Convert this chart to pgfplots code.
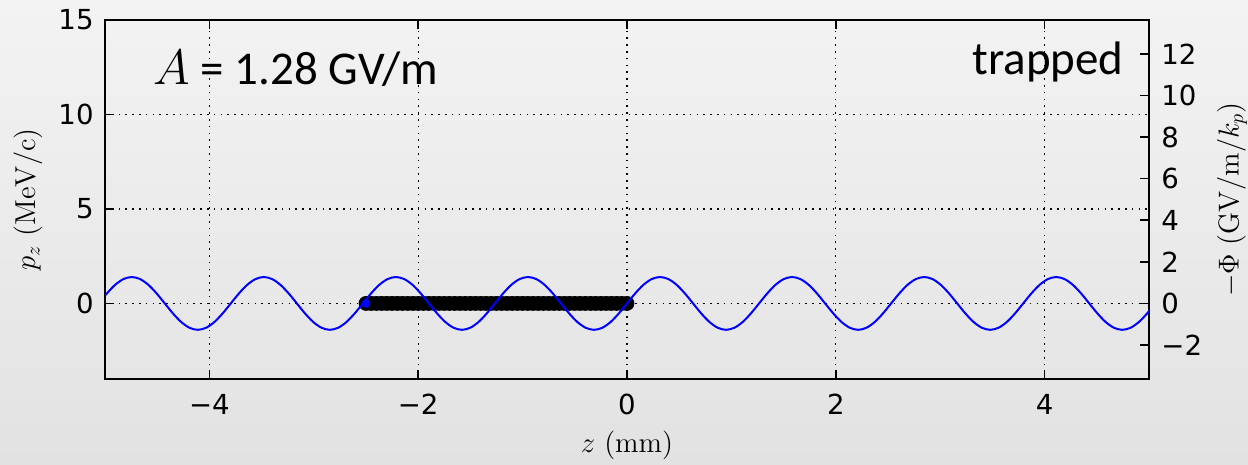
\documentclass[border=0pt]{standalone}
\usepackage[no-math]{fontspec}
\usepackage{pgfplots}
\pgfplotsset{compat=1.18}
\newfontfamily\dejavu{DejaVu Sans}
\newfontfamily\carlito{Carlito}
\definecolor{bgtop}{RGB}{243,243,243}
\definecolor{bgbot}{RGB}{226,226,226}
\pgfplotsset{
  common/.style={
    scale only axis, width=522pt, height=179.5pt, at={(0,0)}, anchor=south west,
    xmin=-5, xmax=5,
    tick align=inside,
    major tick length=4.5pt,
    tick style={black, line width=0.8pt},
    axis line style={black, line width=1pt},
    ticklabel style={font=\dejavu\fontsize{13.8}{16}\selectfont, inner sep=0pt},
  }
}
\begin{document}
\begin{tikzpicture}
\shade[top color=bgtop, bottom color=bgbot] (-52.5pt,-43pt) rectangle (571.5pt,189.5pt);
\begin{axis}[common, name=ax,
  ymin=-4, ymax=15,
  xtick={-4,-2,0,2,4}, xticklabels={−4,−2,0,2,4},
  ytick={0,5,10,15}, yticklabels={0,5,10,15},
  ytick pos=left, xtick pos=both,
  grid=major, major grid style={black, line width=0.6pt, dash pattern=on 0.8pt off 2.6pt},
  xticklabel style={yshift=-7.5pt},
  yticklabel style={xshift=-5.5pt},
]
\addplot[only marks, mark=*, mark size=3.5pt, mark options={fill=black, draw=black}] coordinates {
(-2.50,0)(-2.45,0)(-2.40,0)(-2.35,0)(-2.30,0)(-2.25,0)(-2.20,0)(-2.15,0)(-2.10,0)(-2.05,0)
(-2.00,0)(-1.95,0)(-1.90,0)(-1.85,0)(-1.80,0)(-1.75,0)(-1.70,0)(-1.65,0)(-1.60,0)(-1.55,0)
(-1.50,0)(-1.45,0)(-1.40,0)(-1.35,0)(-1.30,0)(-1.25,0)(-1.20,0)(-1.15,0)(-1.10,0)(-1.05,0)
(-1.00,0)(-0.95,0)(-0.90,0)(-0.85,0)(-0.80,0)(-0.75,0)(-0.70,0)(-0.65,0)(-0.60,0)(-0.55,0)
(-0.50,0)(-0.45,0)(-0.40,0)(-0.35,0)(-0.30,0)(-0.25,0)(-0.20,0)(-0.15,0)(-0.10,0)(-0.05,0)
(0.00,0)
};
\addplot[only marks, mark=*, mark size=2pt, mark options={fill=blue, draw=blue}] coordinates {(-2.50,0)};
\end{axis}
\begin{axis}[common,
  ymin=-3.636, ymax=13.635,
  axis x line=none, axis y line*=right,
  ytick={-2,0,2,4,6,8,10,12}, yticklabels={−2,0,2,4,6,8,10,12},
  yticklabel style={xshift=6pt},
]
\addplot[blue, line width=1pt, smooth] coordinates {
(-5.0600,0)(-4.9809,0.486)(-4.9019,0.898)(-4.8228,1.173)(-4.7438,1.27)(-4.6647,1.173)(-4.5856,0.898)(-4.5066,0.486)
(-4.4275,0)(-4.3484,-0.486)(-4.2694,-0.898)(-4.1903,-1.173)(-4.1113,-1.27)(-4.0322,-1.173)(-3.9531,-0.898)(-3.8741,-0.486)
(-3.7950,0)(-3.7159,0.486)(-3.6369,0.898)(-3.5578,1.173)(-3.4788,1.27)(-3.3997,1.173)(-3.3206,0.898)(-3.2416,0.486)
(-3.1625,0)(-3.0834,-0.486)(-3.0044,-0.898)(-2.9253,-1.173)(-2.8463,-1.27)(-2.7672,-1.173)(-2.6881,-0.898)(-2.6091,-0.486)
(-2.5300,0)(-2.4509,0.486)(-2.3719,0.898)(-2.2928,1.173)(-2.2138,1.27)(-2.1347,1.173)(-2.0556,0.898)(-1.9766,0.486)
(-1.8975,0)(-1.8184,-0.486)(-1.7394,-0.898)(-1.6603,-1.173)(-1.5813,-1.27)(-1.5022,-1.173)(-1.4231,-0.898)(-1.3441,-0.486)
(-1.2650,0)(-1.1859,0.486)(-1.1069,0.898)(-1.0278,1.173)(-0.9488,1.27)(-0.8697,1.173)(-0.7906,0.898)(-0.7116,0.486)
(-0.6325,0)(-0.5534,-0.486)(-0.4744,-0.898)(-0.3953,-1.173)(-0.3163,-1.27)(-0.2372,-1.173)(-0.1581,-0.898)(-0.0791,-0.486)
(0.0000,0)(0.0791,0.486)(0.1581,0.898)(0.2372,1.173)(0.3163,1.27)(0.3953,1.173)(0.4744,0.898)(0.5534,0.486)
(0.6325,0)(0.7116,-0.486)(0.7906,-0.898)(0.8697,-1.173)(0.9488,-1.27)(1.0278,-1.173)(1.1069,-0.898)(1.1859,-0.486)
(1.2650,0)(1.3441,0.486)(1.4231,0.898)(1.5022,1.173)(1.5813,1.27)(1.6603,1.173)(1.7394,0.898)(1.8184,0.486)
(1.8975,0)(1.9766,-0.486)(2.0556,-0.898)(2.1347,-1.173)(2.2138,-1.27)(2.2928,-1.173)(2.3719,-0.898)(2.4509,-0.486)
(2.5300,0)(2.6091,0.486)(2.6881,0.898)(2.7672,1.173)(2.8463,1.27)(2.9253,1.173)(3.0044,0.898)(3.0834,0.486)
(3.1625,0)(3.2416,-0.486)(3.3206,-0.898)(3.3997,-1.173)(3.4788,-1.27)(3.5578,-1.173)(3.6369,-0.898)(3.7159,-0.486)
(3.7950,0)(3.8741,0.486)(3.9531,0.898)(4.0322,1.173)(4.1113,1.27)(4.1903,1.173)(4.2694,0.898)(4.3484,0.486)
(4.4275,0)(4.5066,-0.486)(4.5856,-0.898)(4.6647,-1.173)(4.7438,-1.27)(4.8228,-1.173)(4.9019,-0.898)(4.9809,-0.486)
(5.0600,0)
};
\end{axis}
\node[anchor=base west, inner sep=0pt, font=\carlito\fontsize{23.5}{28}\selectfont] at ([shift={(24pt,-32.5pt)}]ax.north west) {$A$ = 1.28 GV/m};
\node[anchor=base east, inner sep=0pt, font=\carlito\fontsize{23.5}{28}\selectfont] at ([shift={(-12.5pt,-27.5pt)}]ax.north east) {trapped};
\node[rotate=90, inner sep=0pt, font=\fontsize{14}{17}\selectfont] at ([xshift=-38.5pt]ax.west) {$p_z\ (\mathrm{MeV/c})$};
\node[rotate=90, inner sep=0pt, font=\fontsize{14}{17}\selectfont] at ([xshift=41.5pt]ax.east) {$-\Phi\ (\mathrm{GV/m}/k_p)$};
\node[inner sep=0pt, font=\fontsize{14}{17}\selectfont] at ([yshift=-33pt]ax.south) {$z\ (\mathrm{mm})$};
\pgfresetboundingbox
\path[use as bounding box] (-52.5pt,-43pt) rectangle (571.5pt,189.5pt);
\end{tikzpicture}
\end{document}
